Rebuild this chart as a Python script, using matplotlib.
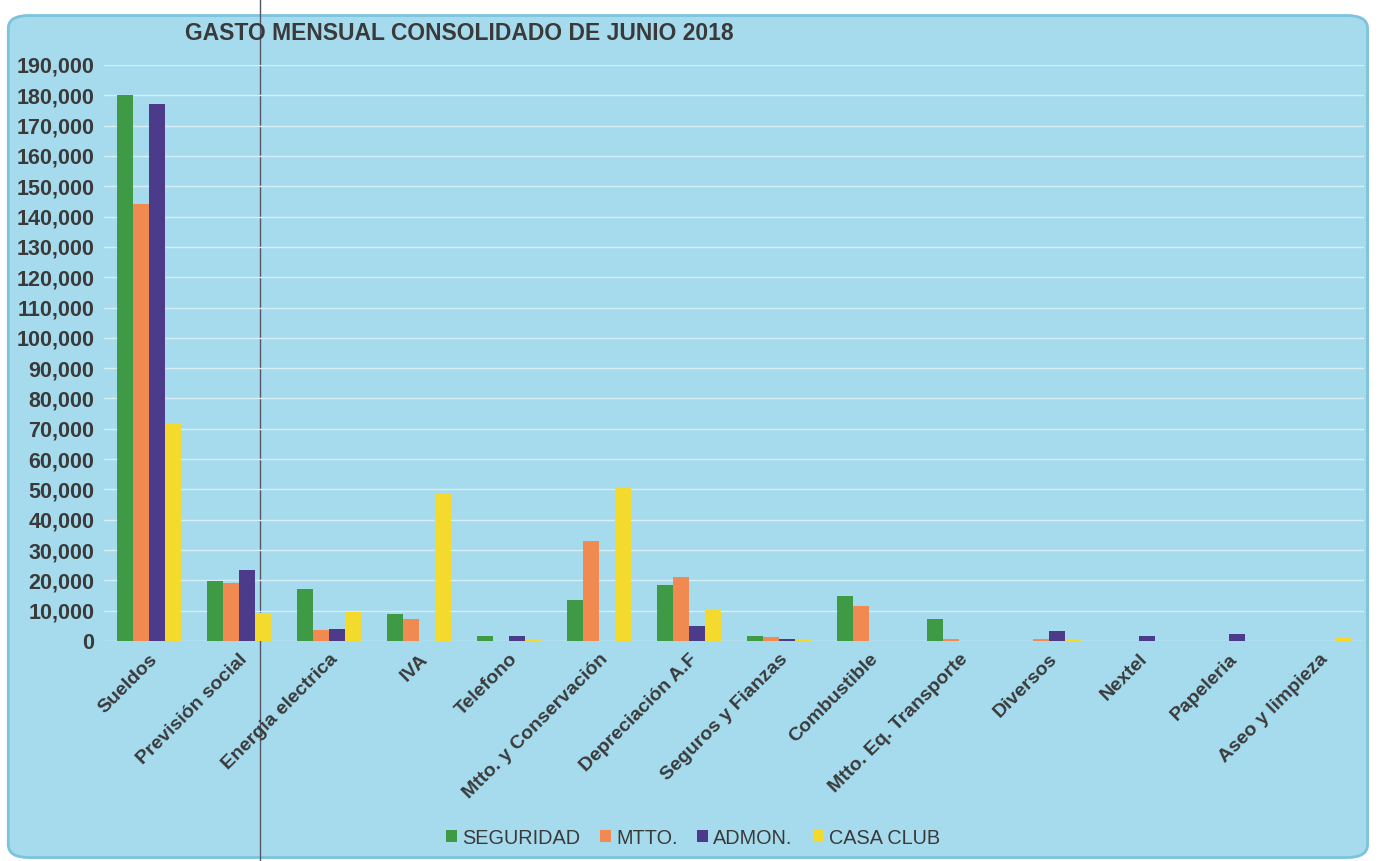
import numpy as np
import matplotlib
matplotlib.use("Agg")
import matplotlib.pyplot as plt
from matplotlib.patches import FancyBboxPatch

plt.rcParams["font.family"] = ["Liberation Sans", "DejaVu Sans"]

categories = ["Sueldos", "Previsión social", "Energia electrica", "IVA", "Telefono",
              "Mtto. y Conservación", "Depreciación A.F", "Seguros y Fianzas",
              "Combustible", "Mtto. Eq. Transporte", "Diversos", "Nextel",
              "Papeleria", "Aseo y limpieza"]

seguridad = [180000, 19800, 17300, 8900, 1600, 13400, 18600, 1800, 14800, 7300, 0, 0, 0, 0]
mtto = [144000, 19000, 3700, 7400, 0, 33000, 21200, 1300, 11500, 600, 600, 0, 0, 0]
admon = [177000, 23400, 3800, 0, 1500, 0, 5000, 600, 0, 0, 3400, 1700, 2400, 0]
casa_club = [72000, 9100, 9500, 48500, 300, 50500, 10100, 200, 0, 0, 800, 0, 0, 1200]

series = [("SEGURIDAD", seguridad, "#3f9a45"),
          ("MTTO.", mtto, "#f08a50"),
          ("ADMON.", admon, "#4b3b8a"),
          ("CASA CLUB", casa_club, "#f4da2c")]

bg = "#a6dbee"
txt = "#3a3a3a"

fig = plt.figure(figsize=(13.8, 8.61), dpi=100)
fig.patch.set_facecolor("white")
# rounded chart area
box = FancyBboxPatch((0.006, 0.004), 0.985, 0.978, boxstyle="round,pad=0,rounding_size=0.015",
                     transform=fig.transFigure, facecolor=bg, edgecolor="#7cc3dc", lw=2, zorder=-5)
fig.patches.append(box)

ax = fig.add_axes([104 / 1380, 1 - 641 / 861, 1260 / 1380, (641 - 65) / 861])
ax.set_facecolor("none")
ax.set_zorder(2)

x = np.arange(len(categories))
w = 0.18
for i, (name, vals, col) in enumerate(series):
    ax.bar(x + (i - 1.5) * w, vals, w, color=col, label=name, zorder=3)

ax.set_xlim(-0.5, len(categories) - 0.5)
ax.set_ylim(0, 190000)
ax.set_yticks(np.arange(0, 190001, 10000))
ax.set_yticklabels([f"{v:,}" for v in range(0, 190001, 10000)], fontsize=15.5,
                   fontweight="bold", color=txt)
ax.set_xticks(x)
ax.set_xticklabels(categories, rotation=45, ha="right", rotation_mode="anchor",
                   fontsize=14, fontweight="bold", color=txt)
ax.tick_params(axis="both", length=0, pad=7)
ax.grid(axis="y", color="#d6eef6", lw=1, zorder=0)
for s in ax.spines.values():
    s.set_visible(False)

fig.text(185 / 1380, 1 - 33 / 861, "GASTO MENSUAL CONSOLIDADO DE JUNIO 2018",
         fontsize=16.5, fontweight="bold", color=txt, va="center", ha="left")

fig.legend(loc="center", bbox_to_anchor=(693 / 1380, 1 - 838 / 861), ncol=4, frameon=False,
           fontsize=14.3, handlelength=0.55, handleheight=0.55, handletextpad=0.25,
           columnspacing=1.0, labelcolor=txt)

# scan crease line
fig.add_artist(plt.Line2D([260 / 1380, 260 / 1380], [0, 1], transform=fig.transFigure,
                          color="#555566", lw=1))

fig.savefig("out.png", dpi=100, facecolor=fig.get_facecolor())
